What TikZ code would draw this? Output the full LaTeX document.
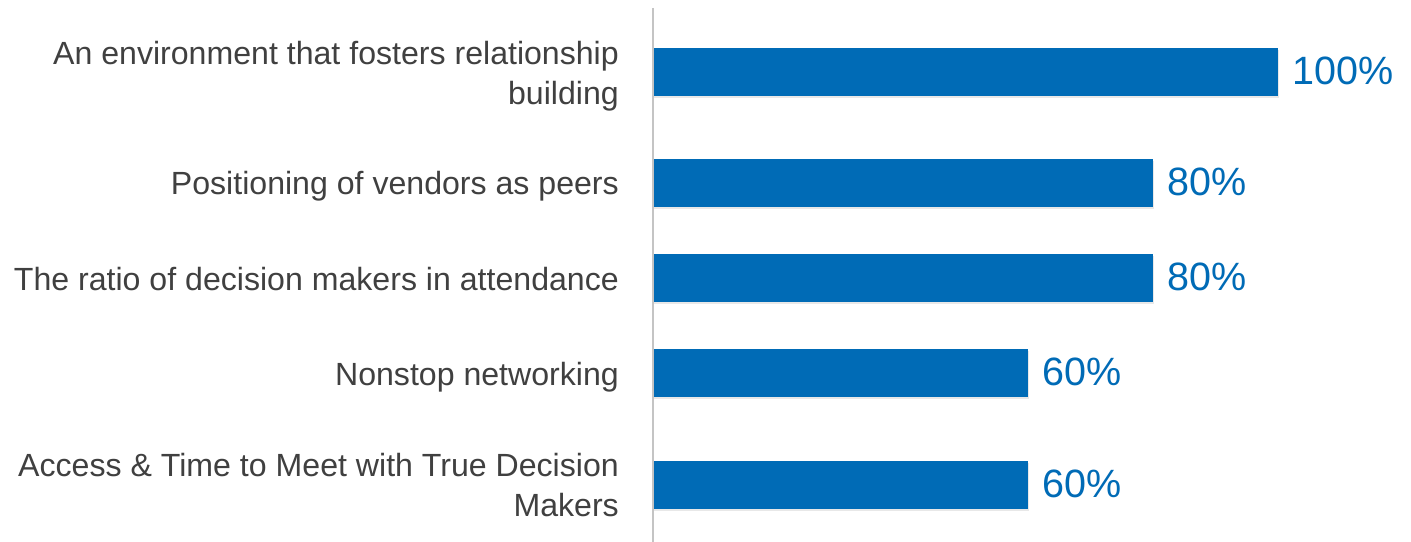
\documentclass[tikz,border=0pt]{standalone}
\usepackage{fontspec}
\setmainfont{Liberation Sans}
\usetikzlibrary{shadows}
\definecolor{barblue}{RGB}{0,107,182}
\definecolor{labgray}{RGB}{64,64,64}
\definecolor{axisgray}{RGB}{196,196,196}
\tikzset{
  barbox/.style={fill=barblue, draw=none, anchor=west, inner sep=0pt, minimum height=48bp,
    drop shadow={opacity=0.18, shadow xshift=1bp, shadow yshift=-2bp}},
  vallab/.style={text=barblue, anchor=base west, inner sep=0pt, font=\fontsize{39.5bp}{44bp}\selectfont},
  catlab/.style={text=labgray, anchor=base east, inner sep=0pt, font=\fontsize{32.1bp}{39.5bp}\selectfont},
  catlabtwo/.style={text=labgray, anchor=east, inner sep=0pt, align=right, font=\fontsize{32.1bp}{39.5bp}\selectfont},
}
\begin{document}
\begin{tikzpicture}[x=1bp, y=-1bp]
\useasboundingbox (0,0) rectangle (1411,542);
\fill[white] (0,0) rectangle (1411,542);
% axis
\coordinate (axtop) at (652.5,8);
\coordinate (axbot) at (652.5,542);
% bars
\node[barbox, minimum width=625bp] (b1) at (653,72) {};
\node[barbox, minimum width=500bp] (b2) at (653,183) {};
\node[barbox, minimum width=500bp] (b3) at (653,278) {};
\node[barbox, minimum width=375bp] (b4) at (653,373) {};
\node[barbox, minimum width=375bp] (b5) at (653,484.5) {};
\draw[axisgray, line width=2bp] (axtop) -- (axbot);
% values
\node[vallab] (v1) at ([xshift=14bp, yshift=-12.5bp]b1.east) {100\%};
\node[vallab] (v2) at ([xshift=14bp, yshift=-12.5bp]b2.east) {80\%};
\node[vallab] (v3) at ([xshift=14bp, yshift=-12.5bp]b3.east) {80\%};
\node[vallab] (v4) at ([xshift=14bp, yshift=-12.5bp]b4.east) {60\%};
\node[vallab] (v5) at ([xshift=14bp, yshift=-12.5bp]b5.east) {60\%};
% categories
\node[catlabtwo] (c1) at (619,76) {An environment that fosters relationship\\building};
\node[catlab] (c2) at (619,195) {Positioning of vendors as peers};
\node[catlab] (c3) at (619,290) {The ratio of decision makers in attendance};
\node[catlab] (c4) at (619,385) {Nonstop networking};
\node[catlabtwo] (c5) at (619,485) {Access \& Time to Meet with True Decision\\Makers};
\end{tikzpicture}
\end{document}
